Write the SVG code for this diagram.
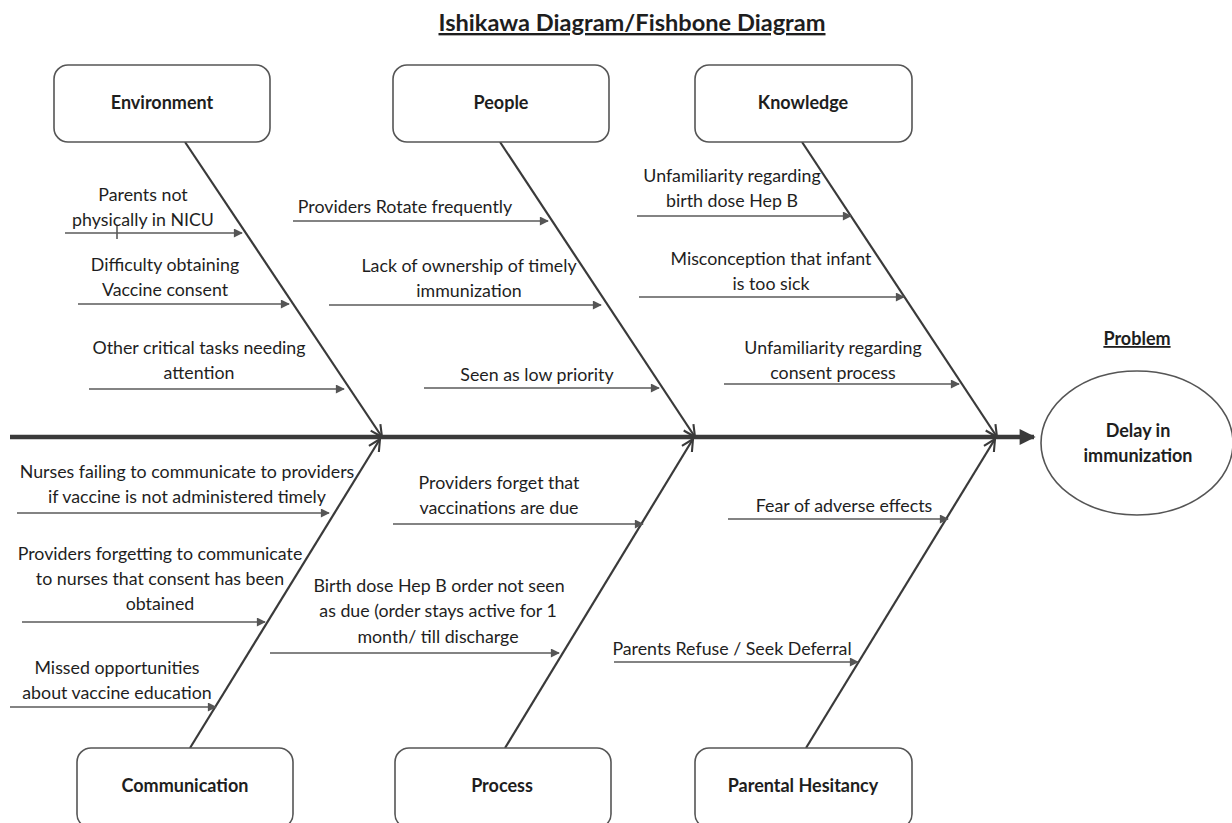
<svg xmlns="http://www.w3.org/2000/svg" width="1232" height="823" viewBox="0 0 1232 823">
<style>
  text { font-family: Lato, "Liberation Sans", sans-serif; fill: #1e1e1e; }
  .t { font-size: 17.8px; text-anchor: middle; }
  .h { font-size: 18px; font-weight: bold; text-anchor: middle; }
  .box { fill: #fff; stroke: #555; stroke-width: 1.6; }
  .rib { stroke: #3a3a3a; stroke-width: 2.2; fill: none; }
  .sub { stroke: #5a5a5a; stroke-width: 1.6; fill: none; }
</style>
<defs>
  <marker id="chev" viewBox="0 0 12 12" refX="11" refY="6" markerWidth="14" markerHeight="14" markerUnits="userSpaceOnUse" orient="auto">
    <path d="M1,1 L11,6 L1,11" fill="none" stroke="#3a3a3a" stroke-width="1.8"/>
  </marker>
  <marker id="tri" viewBox="0 0 10 10" refX="9" refY="5" markerWidth="10" markerHeight="9" markerUnits="userSpaceOnUse" orient="auto">
    <path d="M0,0 L10,5 L0,10 Z" fill="#555"/>
  </marker>
  <marker id="big" viewBox="0 0 10 10" refX="9" refY="5" markerWidth="17" markerHeight="16" markerUnits="userSpaceOnUse" orient="auto">
    <path d="M0,0 L10,5 L0,10 Z" fill="#3a3a3a"/>
  </marker>
</defs>
<rect width="1232" height="823" fill="#fff"/>

<text x="632" y="31" font-size="23.6" font-weight="bold" text-anchor="middle" text-decoration="underline">Ishikawa Diagram/Fishbone Diagram</text>

<g id="connectors">
  <line x1="10" y1="437" x2="1034" y2="437" stroke="#3a3a3a" stroke-width="4.5" marker-end="url(#big)"/>
  <line class="rib" x1="185" y1="142" x2="382" y2="437" marker-end="url(#chev)"/>
  <line class="rib" x1="500" y1="142" x2="695" y2="437" marker-end="url(#chev)"/>
  <line class="rib" x1="802" y1="142" x2="997" y2="437" marker-end="url(#chev)"/>
  <line class="rib" x1="190" y1="748" x2="380" y2="439" marker-end="url(#chev)"/>
  <line class="rib" x1="505" y1="748" x2="693" y2="439" marker-end="url(#chev)"/>
  <line class="rib" x1="806" y1="748" x2="995" y2="439" marker-end="url(#chev)"/>

  <line class="sub" x1="65" y1="233" x2="242" y2="233" marker-end="url(#tri)"/>
  <line class="sub" x1="117" y1="226" x2="117" y2="239"/>
  <line class="sub" x1="78" y1="304" x2="289" y2="304" marker-end="url(#tri)"/>
  <line class="sub" x1="89" y1="389" x2="344" y2="389" marker-end="url(#tri)"/>

  <line class="sub" x1="293" y1="221" x2="548" y2="221" marker-end="url(#tri)"/>
  <line class="sub" x1="329" y1="305" x2="601" y2="305" marker-end="url(#tri)"/>
  <line class="sub" x1="424" y1="388" x2="659" y2="388" marker-end="url(#tri)"/>

  <line class="sub" x1="637" y1="216" x2="851" y2="216" marker-end="url(#tri)"/>
  <line class="sub" x1="639" y1="297" x2="904" y2="297" marker-end="url(#tri)"/>
  <line class="sub" x1="724" y1="384" x2="959" y2="384" marker-end="url(#tri)"/>

  <line class="sub" x1="17" y1="513" x2="329" y2="513" marker-end="url(#tri)"/>
  <line class="sub" x1="22" y1="622" x2="265" y2="622" marker-end="url(#tri)"/>
  <line class="sub" x1="10" y1="707" x2="216" y2="707" marker-end="url(#tri)"/>

  <line class="sub" x1="393" y1="524" x2="643" y2="524" marker-end="url(#tri)"/>
  <line class="sub" x1="270" y1="653" x2="559" y2="653" marker-end="url(#tri)"/>

  <line class="sub" x1="728" y1="519" x2="948" y2="519" marker-end="url(#tri)"/>
  <line class="sub" x1="614" y1="662" x2="858" y2="662" marker-end="url(#tri)"/>
</g>

<g id="environment">
  <rect class="box" x="54" y="65" width="216" height="77" rx="14"/>
  <text class="h" x="162" y="109">Environment</text>
</g>
<g id="people">
  <rect class="box" x="393" y="65" width="216" height="77" rx="14"/>
  <text class="h" x="501" y="109">People</text>
</g>
<g id="knowledge">
  <rect class="box" x="695" y="65" width="217" height="77" rx="14"/>
  <text class="h" x="803" y="109">Knowledge</text>
</g>
<g id="communication">
  <rect class="box" x="77" y="748" width="216" height="80" rx="14"/>
  <text class="h" x="185" y="792">Communication</text>
</g>
<g id="process">
  <rect class="box" x="395" y="748" width="216" height="80" rx="14"/>
  <text class="h" x="502" y="792">Process</text>
</g>
<g id="parental-hesitancy">
  <rect class="box" x="695" y="748" width="217" height="80" rx="14"/>
  <text class="h" x="803" y="792">Parental Hesitancy</text>
</g>

<g id="problem">
  <text class="h" x="1137" y="345" text-decoration="underline">Problem</text>
  <ellipse cx="1137" cy="443" rx="96" ry="72" fill="#fff" stroke="#555" stroke-width="1.6"/>
  <text class="h" x="1138" y="437">Delay in</text>
  <text class="h" x="1138" y="462">immunization</text>
</g>

<g id="causes">
  <text class="t" x="143" y="201">Parents not</text>
  <text class="t" x="143" y="226">physically in NICU</text>
  <text class="t" x="165" y="271">Difficulty obtaining</text>
  <text class="t" x="165" y="296">Vaccine consent</text>
  <text class="t" x="199" y="354">Other critical tasks needing</text>
  <text class="t" x="199" y="379">attention</text>

  <text class="t" x="405" y="213">Providers Rotate frequently</text>
  <text class="t" x="469" y="272">Lack of ownership of timely</text>
  <text class="t" x="469" y="297">immunization</text>
  <text class="t" x="537" y="381">Seen as low priority</text>

  <text class="t" x="732" y="182">Unfamiliarity regarding</text>
  <text class="t" x="732" y="207">birth dose Hep B</text>
  <text class="t" x="771" y="265">Misconception that infant</text>
  <text class="t" x="771" y="290">is too sick</text>
  <text class="t" x="833" y="354">Unfamiliarity regarding</text>
  <text class="t" x="833" y="379">consent process</text>

  <text class="t" x="187" y="478">Nurses failing to communicate to providers</text>
  <text class="t" x="187" y="503">if vaccine is not administered timely</text>
  <text class="t" x="160" y="560">Providers forgetting to communicate</text>
  <text class="t" x="160" y="585">to nurses that consent has been</text>
  <text class="t" x="160" y="610">obtained</text>
  <text class="t" x="117" y="674">Missed opportunities</text>
  <text class="t" x="117" y="699">about vaccine education</text>

  <text class="t" x="499" y="489">Providers forget that</text>
  <text class="t" x="499" y="514">vaccinations are due</text>
  <text class="t" x="439" y="592">Birth dose Hep B order not seen</text>
  <text class="t" x="438" y="617">as due (order stays active for 1</text>
  <text class="t" x="438" y="643">month/ till discharge</text>

  <text class="t" x="844" y="512">Fear of adverse effects</text>
  <text class="t" x="732" y="655">Parents Refuse / Seek Deferral</text>
</g>
</svg>
